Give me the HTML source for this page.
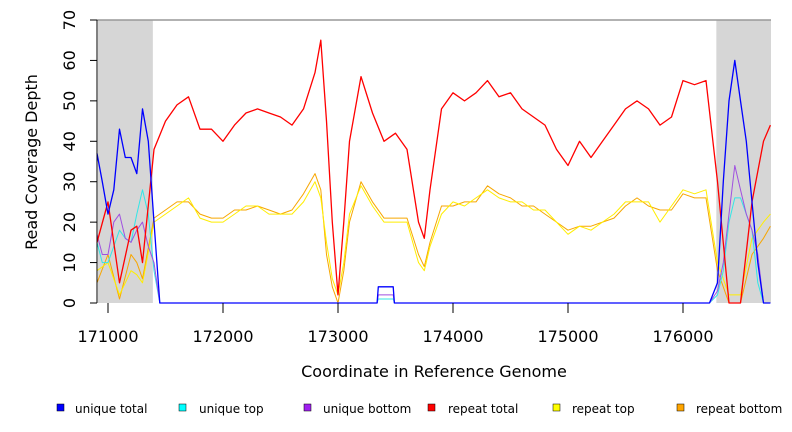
<!DOCTYPE html>
<html><head><meta charset="utf-8"><style>
body{margin:0;background:#fff;}
svg{display:block;font-family:"DejaVu Sans","Liberation Sans",sans-serif;}
</style></head><body>
<svg id="chart" width="792" height="432" viewBox="0 0 792 432">
<g id="plot"></g>
</svg>
<script>
const xTicks=[171000,172000,173000,174000,175000,176000];
const yTicks=[0,10,20,30,40,50,60,70];
const grayRegions=[[170905,171390],[176290,176765]];
const redX=[170900,171000,171100,171200,171250,171300,171400,171500,171600,171700,171800,171900,172000,172100,172200,172300,172400,172500,172600,172700,172800,172850,172900,172950,173000,173050,173100,173200,173300,173400,173500,173600,173700,173750,173800,173900,174000,174100,174200,174300,174400,174500,174600,174700,174800,174900,175000,175100,175200,175300,175400,175500,175600,175700,175800,175900,176000,176100,176200,176300,176400,176500,176600,176700,176760];
const redY=[15,25,5,18,19,10,38,45,49,51,43,43,40,44,47,48,47,46,44,48,57,65,45,20,2,20,40,56,47,40,42,38,20,16,28,48,52,50,52,55,51,52,48,46,44,38,34,40,36,40,44,48,50,48,44,46,55,54,55,30,0,0,25,40,44];
const yelY=[8,10,2,8,7,5,20,22,24,26,21,20,20,22,24,24,22,22,22,25,30,26,15,6,2,10,22,29,24,20,20,20,10,8,14,22,25,24,26,28,26,25,25,23,23,20,17,19,18,20,22,25,25,25,20,24,28,27,28,10,2,2,16,20,22];
const oraY=[5,12,1,12,10,6,21,23,25,25,22,21,21,23,23,24,23,22,23,27,32,28,12,4,0,8,20,30,25,21,21,21,12,9,15,24,24,25,25,29,27,26,24,24,22,20,18,19,19,20,21,24,26,24,23,23,27,26,26,8,0,0,12,16,19];
const bluX=[170900,170950,171000,171050,171100,171150,171200,171250,171300,171350,171400,171450,173340,173350,173480,173490,176230,176300,176350,176400,176450,176500,176550,176600,176650,176700,176760];
const bluY=[37,30,22,28,43,36,36,32,48,40,20,0,0,4,4,0,0,5,30,50,60,50,40,25,10,0,0];
const purY=[17,12,12,20,22,16,15,18,20,14,10,0,0,2,2,0,0,3,10,22,34,28,22,18,12,0,0];
const cyaY=[15,10,10,14,18,16,15,22,28,22,8,0,0,1,1,0,0,2,8,20,26,26,22,18,5,0,0];
const NS='http://www.w3.org/2000/svg';
const L=97,R=771,T=20,B=303;
const xs=v=>108+(v-171000)*0.115;
const ys=v=>B-(v/70)*(B-T);
const g=document.getElementById('plot');
function mk(tag,attrs,parent){const e=document.createElementNS(NS,tag);for(const k in attrs)e.setAttribute(k,attrs[k]);(parent||g).appendChild(e);return e;}
grayRegions.forEach(r=>{
 const e=mk('rect',{x:Math.max(L+1,xs(r[0])),y:T,width:Math.min(R,xs(r[1]))-Math.max(L+1,xs(r[0])),height:B-T,fill:'#d6d6d6'});
 
 
});
const topBorder=mk('line',{x1:L,x2:R,y1:T,y2:T,stroke:'#999','stroke-width':1.5});


function line(xa,ya,color,name,w){
 let d='';
 for(let i=0;i<xa.length;i++){
  const x=Math.min(R,Math.max(L,xs(xa[i]))),y=ys(ya[i]);
  d+=(i===0?'M':'L')+x.toFixed(1)+','+y.toFixed(1);
 }
 const p=mk('path',{d:d,fill:'none',stroke:color,'stroke-width':w,'stroke-linejoin':'round'});
 
 
}
line(redX,oraY,'#f7a600','series-repeat-bottom',1);
line(redX,yelY,'#ffee00','series-repeat-top',1);
line(bluX,cyaY,'#33e6e6','series-unique-top',1);
line(bluX,purY,'#a050e0','series-unique-bottom',1);
line(redX,redY,'#ff0000','series-repeat-total',1.3);
line(bluX,bluY,'#0000ff','series-unique-total',1.3);
const yAxisLine=mk('line',{x1:L,x2:L,y1:T,y2:B,stroke:'#000'});


yTicks.forEach(v=>{
 mk('line',{x1:L-7,x2:L,y1:ys(v),y2:ys(v),stroke:'#000'});
 const t=mk('text',{x:75,y:ys(v),'text-anchor':'middle','font-size':16,transform:'rotate(-90 75 '+ys(v)+')'});
 t.textContent=v;
 
 
});
xTicks.forEach(v=>{
 mk('line',{x1:xs(v),x2:xs(v),y1:B,y2:B+10,stroke:'#000'});
 const t=mk('text',{x:xs(v),y:B+39,'text-anchor':'middle','font-size':16});
 t.textContent=v;
 
 
});
</script>
<svg style="position:absolute;left:0;top:0" width="792" height="432">
<text x="37" y="162" transform="rotate(-90 37 162)" text-anchor="middle" font-size="16">Read Coverage Depth</text>
<text x="434" y="377" text-anchor="middle" font-size="16">Coordinate in Reference Genome</text>
<g font-size="12">
<g><rect x="57" y="404" width="7" height="7" fill="#0000ff" stroke="#000" stroke-width="0.5"/><text x="75" y="413">unique total</text></g>
<g><rect x="179" y="404" width="7" height="7" fill="#00ffff" stroke="#000" stroke-width="0.5"/><text x="199" y="413">unique top</text></g>
<g><rect x="304" y="404" width="7" height="7" fill="#a020f0" stroke="#000" stroke-width="0.5"/><text x="323" y="413">unique bottom</text></g>
<g><rect x="428" y="404" width="7" height="7" fill="#ff0000" stroke="#000" stroke-width="0.5"/><text x="448" y="413">repeat total</text></g>
<g><rect x="553" y="404" width="7" height="7" fill="#ffff00" stroke="#000" stroke-width="0.5"/><text x="572" y="413">repeat top</text></g>
<g><rect x="677" y="404" width="7" height="7" fill="#ffa500" stroke="#000" stroke-width="0.5"/><text x="696" y="413">repeat bottom</text></g>
</g>
</svg>
</body></html>
